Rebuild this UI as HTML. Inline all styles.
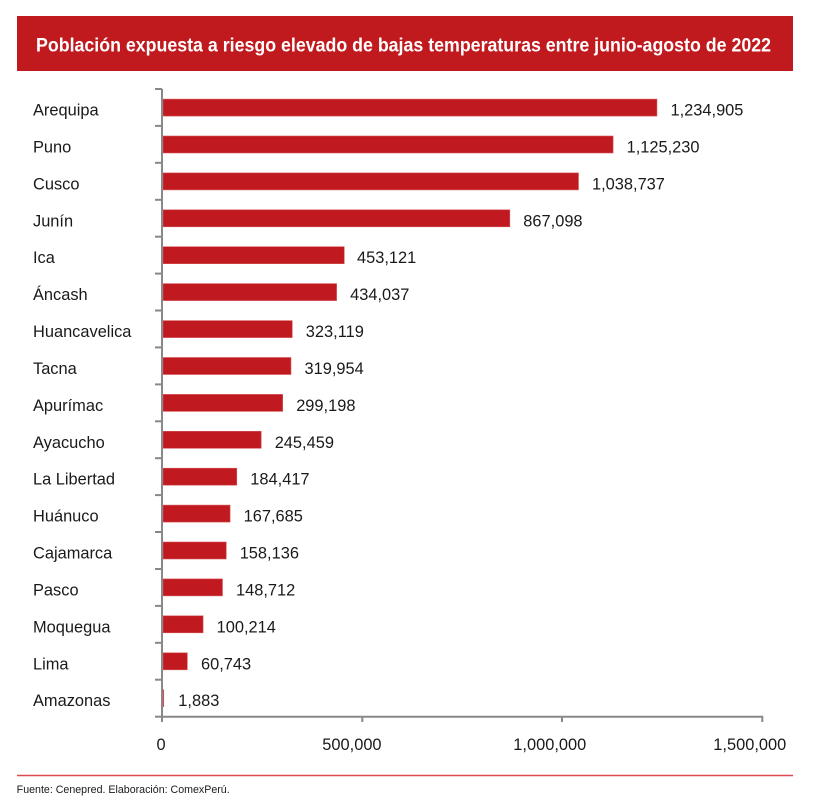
<!DOCTYPE html>
<html>
<head>
<meta charset="utf-8">
<style>
  html,body{margin:0;padding:0;background:#ffffff;}
  svg{display:block;}
  text{font-family:"Liberation Sans", Arial, sans-serif;}
</style>
</head>
<body>
<svg width="818" height="808" viewBox="0 0 818 808" xmlns="http://www.w3.org/2000/svg">
  <rect x="0" y="0" width="818" height="808" fill="#ffffff"/>
  <!-- Title band -->
  <rect x="17" y="16" width="776" height="55" fill="#c0191e"/>
  <text x="36" y="51.5" font-size="19.5" font-weight="bold" fill="#ffffff" textLength="735" lengthAdjust="spacingAndGlyphs">Población expuesta a riesgo elevado de bajas temperaturas entre junio-agosto de 2022</text>

  <!-- Bars -->
  <g fill="#c0191f" stroke="#d6585c" stroke-width="0.6">
    <rect x="163" y="99.1" width="493.96" height="17"/>
    <rect x="163" y="136.0" width="450.09" height="17"/>
    <rect x="163" y="172.9" width="415.49" height="17"/>
    <rect x="163" y="209.8" width="346.84" height="17"/>
    <rect x="163" y="246.7" width="181.25" height="17"/>
    <rect x="163" y="283.6" width="173.61" height="17"/>
    <rect x="163" y="320.6" width="129.25" height="17"/>
    <rect x="163" y="357.5" width="127.98" height="17"/>
    <rect x="163" y="394.4" width="119.68" height="17"/>
    <rect x="163" y="431.3" width="98.18" height="17"/>
    <rect x="163" y="468.2" width="73.77" height="17"/>
    <rect x="163" y="505.1" width="67.07" height="17"/>
    <rect x="163" y="542.0" width="63.25" height="17"/>
    <rect x="163" y="578.9" width="59.48" height="17"/>
    <rect x="163" y="615.8" width="40.09" height="17"/>
    <rect x="163" y="652.8" width="24.30" height="17"/>
    <rect x="163" y="689.7" width="0.75" height="17"/>
  </g>

  <!-- Axes -->
  <g stroke="#888888" stroke-width="2" fill="none">
    <line x1="162" y1="89" x2="162" y2="717"/>
    <line x1="161" y1="716.7" x2="763" y2="716.7"/>
    <!-- left ticks -->
    <line x1="155" y1="89.0" x2="162" y2="89.0"/>
    <line x1="155" y1="125.9" x2="162" y2="125.9"/>
    <line x1="155" y1="162.8" x2="162" y2="162.8"/>
    <line x1="155" y1="199.8" x2="162" y2="199.8"/>
    <line x1="155" y1="236.7" x2="162" y2="236.7"/>
    <line x1="155" y1="273.6" x2="162" y2="273.6"/>
    <line x1="155" y1="310.5" x2="162" y2="310.5"/>
    <line x1="155" y1="347.4" x2="162" y2="347.4"/>
    <line x1="155" y1="384.4" x2="162" y2="384.4"/>
    <line x1="155" y1="421.3" x2="162" y2="421.3"/>
    <line x1="155" y1="458.2" x2="162" y2="458.2"/>
    <line x1="155" y1="495.1" x2="162" y2="495.1"/>
    <line x1="155" y1="532.0" x2="162" y2="532.0"/>
    <line x1="155" y1="569.0" x2="162" y2="569.0"/>
    <line x1="155" y1="605.9" x2="162" y2="605.9"/>
    <line x1="155" y1="642.8" x2="162" y2="642.8"/>
    <line x1="155" y1="679.7" x2="162" y2="679.7"/>
    <line x1="155" y1="716.7" x2="162" y2="716.7"/>
    <!-- bottom ticks -->
    <line x1="162" y1="716" x2="162" y2="722"/>
    <line x1="362.3" y1="716" x2="362.3" y2="722"/>
    <line x1="562" y1="716" x2="562" y2="722"/>
    <line x1="762.3" y1="716" x2="762.3" y2="722"/>
  </g>

  <!-- Category labels -->
  <g font-size="16.4" fill="#1a1a1a">
    <text x="33" y="115.5">Arequipa</text>
    <text x="33" y="152.4">Puno</text>
    <text x="33" y="189.4">Cusco</text>
    <text x="33" y="226.3">Junín</text>
    <text x="33" y="263.2">Ica</text>
    <text x="33" y="300.1">Áncash</text>
    <text x="33" y="337.0">Huancavelica</text>
    <text x="33" y="374.0">Tacna</text>
    <text x="33" y="410.9">Apurímac</text>
    <text x="33" y="447.8">Ayacucho</text>
    <text x="33" y="484.7">La Libertad</text>
    <text x="33" y="521.6">Huánuco</text>
    <text x="33" y="558.5">Cajamarca</text>
    <text x="33" y="595.5">Pasco</text>
    <text x="33" y="632.4">Moquegua</text>
    <text x="33" y="669.3">Lima</text>
    <text x="33" y="706.2">Amazonas</text>
  </g>

  <!-- Value labels -->
  <g font-size="16.4" fill="#1a1a1a">
    <text x="670.5" y="115.5">1,234,905</text>
    <text x="626.6" y="152.4">1,125,230</text>
    <text x="592.0" y="189.4">1,038,737</text>
    <text x="523.3" y="226.3">867,098</text>
    <text x="357.0" y="263.2">453,121</text>
    <text x="350.1" y="300.1">434,037</text>
    <text x="305.8" y="337.0">323,119</text>
    <text x="304.5" y="374.0">319,954</text>
    <text x="296.2" y="410.9">299,198</text>
    <text x="274.7" y="447.8">245,459</text>
    <text x="250.3" y="484.7">184,417</text>
    <text x="243.6" y="521.6">167,685</text>
    <text x="239.7" y="558.5">158,136</text>
    <text x="236.0" y="595.5">148,712</text>
    <text x="216.6" y="632.4">100,214</text>
    <text x="201.0" y="669.3">60,743</text>
    <text x="178.3" y="706.2">1,883</text>
  </g>

  <!-- X axis labels -->
  <g font-size="16.4" fill="#1a1a1a">
    <text x="156.5" y="750">0</text>
    <text x="322.3" y="750">500,000</text>
    <text x="513.3" y="750">1,000,000</text>
    <text x="713.3" y="750">1,500,000</text>
  </g>

  <!-- Footer -->
  <line x1="17" y1="775.5" x2="793" y2="775.5" stroke="#dd4a52" stroke-width="1.5"/>
  <text x="16.7" y="793" font-size="10.6" fill="#1a1a1a" textLength="213" lengthAdjust="spacingAndGlyphs">Fuente: Cenepred. Elaboración: ComexPerú.</text>
</svg>
</body>
</html>
